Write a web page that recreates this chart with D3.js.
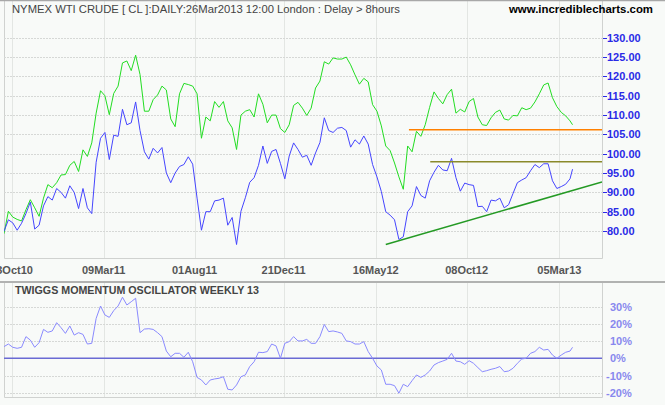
<!DOCTYPE html>
<html>
<head>
<meta charset="utf-8">
<script src="https://cdn.jsdelivr.net/npm/d3@7"></script>
<style>
  body { margin: 0; background: #f8faf8; }
  svg { display: block; font-family: "Liberation Sans", Arial, sans-serif; }
</style>
</head>
<body>
<div id="chart"></div>
<script>
// ---- data ----
const firstWeek = '2010-10-01';
const lastDay = '2013-03-26';
const xDomain = ['2010-10-01', '2013-05-12'];

const tickDates = ['2010-10-13', '2011-03-09', '2011-08-01', '2011-12-21', '2012-05-16', '2012-10-08', '2013-03-05'];
const tickLabels = ['13Oct10', '09Mar11', '01Aug11', '21Dec11', '16May12', '08Oct12', '05Mar13'];

const priceTicks = [80, 85, 90, 95, 100, 105, 110, 115, 120, 125, 130];
const oscTicks = [-20, -10, 0, 10, 20, 30];

// weekly closes, green (upper) and blue (lower) price lines
const greenClose = [
  79.3, 85.1, 83.6, 83.0, 82.6, 85.5, 88.1, 86.0, 83.8, 88.5,
  92.0, 91.2, 92.5, 94.5, 94.6, 97.0, 98.0, 95.4, 101.0, 99.3,
  102.8, 110.5, 116.3, 115.0, 110.1, 115.6, 117.5, 123.5, 124.0, 121.5,
  125.5, 120.5, 111.0, 111.0, 114.0, 115.2, 117.5, 116.5, 109.0, 107.0,
  115.5, 118.2, 117.9, 117.5, 115.5, 104.0, 109.5, 108.5, 113.5, 112.0,
  113.5, 108.5, 106.7, 101.1, 110.0, 111.0, 111.4, 109.5, 115.5, 112.8,
  108.0, 110.0, 110.0, 106.5, 105.5, 107.5, 112.5, 113.3, 111.8, 109.9,
  111.8, 117.0, 118.8, 123.8, 123.2, 124.8, 124.5, 124.5, 125.0, 123.0,
  120.4, 118.0, 119.5, 118.6, 112.7, 111.0, 107.2, 102.0, 100.8, 97.6,
  94.0, 90.8, 102.0, 100.5, 105.8, 104.5, 107.5, 112.0, 116.0, 114.3,
  112.9, 115.3, 116.7, 110.5, 111.5, 110.8, 113.5, 114.3, 109.5, 107.5,
  107.3, 109.3, 110.7, 111.3, 109.0, 108.7, 109.9, 109.8, 111.9, 111.4,
  111.8, 113.4, 115.5, 117.8, 118.3, 114.5, 112.2, 110.7, 109.8, 108.5,
  107.5
];
const blueClose = [
  79.9, 82.9, 82.1, 80.2, 82.0, 84.5, 87.5, 80.5, 81.5, 86.5,
  88.9, 88.0, 91.0, 90.0, 88.5, 91.7, 90.0, 85.8, 91.0, 86.0,
  84.5, 97.8, 104.0, 105.5, 98.5, 104.8, 104.5, 111.5, 107.5, 108.0,
  113.4, 106.0, 100.5, 98.6, 101.4, 100.2, 101.6, 95.0, 92.5, 95.0,
  96.7, 97.2, 99.2, 97.3, 88.5, 80.2, 85.0, 85.0, 87.8, 88.0,
  88.5, 81.5, 83.5, 76.5, 85.1, 88.6, 92.6, 93.8, 97.0, 102.0,
  97.5, 100.6, 101.1, 97.5, 93.5, 99.4, 102.8, 101.1, 99.1, 99.6,
  97.0, 100.2, 102.9, 109.3, 106.0, 105.5, 106.6, 106.8, 106.0, 101.7,
  103.6, 102.5, 104.6, 102.5, 97.2, 94.0, 90.2, 85.0, 84.1, 82.9,
  77.8, 78.5, 85.0, 86.5, 91.5, 89.2, 88.5, 93.0, 95.2, 97.0,
  95.8, 95.6, 98.8, 93.8, 90.3, 92.4, 92.0, 91.8, 86.3, 86.4,
  85.0, 88.0, 87.8, 88.5, 86.0, 86.8, 89.7, 92.5, 93.2, 93.8,
  95.6, 97.2, 96.4, 97.4, 97.4, 93.0, 91.0, 91.5, 92.1, 93.5,
  96.0
];
// Twiggs momentum oscillator, weekly 13 (percent)
const twiggs = [
  6.8, 8.3, 6.4, 5.8, 6.4, 12.6, 10.6, 6.4, 9.1, 16.8,
  15.1, 15.9, 20.7, 17.8, 14.5, 18.8, 13.5, 14.9, 13.9, 8.3,
  8.7, 23.2, 30.4, 25.2, 23.8, 27.7, 30.4, 35.5, 31.0, 32.9,
  34.9, 14.9, 17.0, 17.2, 16.8, 14.9, 12.6, 4.2, 0.9, 2.9,
  2.9, 0.6, 3.5, -2.0, -11.1, -12.6, -15.5, -12.6, -12.0, -11.6,
  -10.7, -18.0, -18.4, -15.5, -10.7, -9.7, -4.8, -2.0, 3.5, 3.3,
  3.9, 8.3, 7.2, 0.0, 8.7, 9.7, 12.6, 10.1, 10.1, 11.0,
  8.7, 8.7, 12.6, 19.7, 15.5, 15.9, 15.3, 14.5, 10.1, 9.7,
  8.3, 8.3, 9.7, 3.9, 0.0, -4.5, -6.8, -15.1, -15.1, -15.9,
  -20.3, -15.1, -16.5, -13.0, -9.7, -11.1, -9.7, -7.4, -3.9, -2.5,
  -1.6, -0.6, 2.9, -1.6, -2.0, -3.5, -1.4, -2.9, -5.4, -7.8,
  -7.2, -6.4, -5.8, -4.8, -7.8, -7.4, -5.8, -2.9, -0.4, 0.0,
  2.9, 3.9, 6.4, 4.8, 5.2, 1.9, 0.0, 1.9, 3.5, 4.2,
  6.4
];

// drawn support / resistance / trend lines: [start date, level] (end date for the trend)
const orangeLevel = ['2012-07-08', 106.2];
const oliveLevel = ['2012-08-11', 97.9];
const trendLine = [['2012-06-01', 76.5], ['2013-05-12', 92.7]];

// ---- layout ----
const W = 665, H = 405;
const plotL = 4, plotR = 602;
const main = { top: 1, bottom: 258 };
const lower = { top: 283, bottom: 397 };

const colors = {
  bg: '#f8faf8',
  grid: '#d6d8d6',
  vgrid: '#e3e6e3',
  border: '#d0d2d0',
  green: '#22dd22',
  blue: '#4545ff',
  orange: '#ff8000',
  olive: '#8a8a2a',
  trend: '#249a24',
  osc: '#8a8aff',
  zero: '#6a6ad4',
  priceLabel: '#2a2ae6',
  oscLabel: '#8888ee',
  text: '#444'
};

const parse = d3.timeParse('%Y-%m-%d');
const weekDates = d3.range(greenClose.length - 1)
  .map(i => d3.timeDay.offset(parse(firstWeek), 7 * i))
  .concat([parse(lastDay)]);

const x = d3.scaleTime().domain(xDomain.map(parse)).range([plotL, plotR]);
const yMain = d3.scaleLinear().domain([80, 130]).range([231, 37.8]);
const yOsc = d3.scaleLinear().domain([-20, 30]).range([392.7, 306.7]);

const svg = d3.select('#chart').append('svg')
  .attr('width', W).attr('height', H);

svg.append('rect').attr('width', W).attr('height', H).attr('fill', colors.bg);

const defs = svg.append('defs');
defs.append('clipPath').attr('id', 'clipMain')
  .append('rect').attr('x', plotL).attr('y', main.top)
  .attr('width', plotR - plotL).attr('height', main.bottom - main.top);
defs.append('clipPath').attr('id', 'clipLower')
  .append('rect').attr('x', plotL).attr('y', lower.top)
  .attr('width', plotR - plotL).attr('height', lower.bottom - lower.top);

// vertical grid in both panels
[main, lower].forEach(p => {
  svg.append('g').selectAll('line').data(tickDates).join('line')
    .attr('x1', d => Math.round(x(parse(d))) + 0.5)
    .attr('x2', d => Math.round(x(parse(d))) + 0.5)
    .attr('y1', p.top).attr('y2', p.bottom)
    .attr('stroke', colors.vgrid).attr('stroke-width', 1);
  // borders
  svg.append('path')
    .attr('d', `M${plotL + 0.5},${p.top}V${p.bottom + 0.5}H${plotR + 0.5}V${p.top}`)
    .attr('fill', 'none').attr('stroke', colors.border).attr('stroke-width', 1);
});

// horizontal grid, main
svg.append('g').selectAll('line').data(priceTicks).join('line')
  .attr('x1', plotL).attr('x2', plotR)
  .attr('y1', d => Math.round(yMain(d)) + 0.5).attr('y2', d => Math.round(yMain(d)) + 0.5)
  .attr('stroke', colors.grid).attr('stroke-dasharray', '2,1');

// horizontal grid, lower
svg.append('g').selectAll('line').data(oscTicks.filter(d => d !== 0)).join('line')
  .attr('x1', plotL).attr('x2', plotR)
  .attr('y1', d => Math.round(yOsc(d)) + 0.5).attr('y2', d => Math.round(yOsc(d)) + 0.5)
  .attr('stroke', colors.grid).attr('stroke-dasharray', '2,1');

// top edge and panel separator
svg.append('line').attr('x1', 0).attr('x2', W).attr('y1', 0.5).attr('y2', 0.5)
  .attr('stroke', '#a8a8a8').attr('stroke-width', 1.5);
svg.append('line').attr('x1', 0).attr('x2', W).attr('y1', 282).attr('y2', 282)
  .attr('stroke', '#9a9a9a').attr('stroke-width', 1.5);

// price lines
const gMain = svg.append('g').attr('clip-path', 'url(#clipMain)');
const priceLine = values => d3.line()
  .x((d, i) => x(weekDates[i]))
  .y(d => yMain(d))(values);

gMain.append('path').attr('d', priceLine(greenClose))
  .attr('fill', 'none').attr('stroke', colors.green).attr('stroke-width', 1);
gMain.append('path').attr('d', priceLine(blueClose))
  .attr('fill', 'none').attr('stroke', colors.blue).attr('stroke-width', 1);

// support / resistance levels and trend line
const xEnd = x.domain()[1];
gMain.append('line')
  .attr('x1', x(parse(orangeLevel[0]))).attr('x2', x(xEnd))
  .attr('y1', yMain(orangeLevel[1])).attr('y2', yMain(orangeLevel[1]))
  .attr('stroke', colors.orange).attr('stroke-width', 1.5);
gMain.append('line')
  .attr('x1', x(parse(oliveLevel[0]))).attr('x2', x(xEnd))
  .attr('y1', yMain(oliveLevel[1])).attr('y2', yMain(oliveLevel[1]))
  .attr('stroke', colors.olive).attr('stroke-width', 1.5);
gMain.append('line')
  .attr('x1', x(parse(trendLine[0][0]))).attr('y1', yMain(trendLine[0][1]))
  .attr('x2', x(parse(trendLine[1][0]))).attr('y2', yMain(trendLine[1][1]))
  .attr('stroke', colors.trend).attr('stroke-width', 1.5);

// right price axis
const priceAxis = svg.append('g');
priceAxis.selectAll('line').data(priceTicks).join('line')
  .attr('x1', plotR + 1).attr('x2', plotR + 5)
  .attr('y1', d => Math.round(yMain(d)) + 0.5).attr('y2', d => Math.round(yMain(d)) + 0.5)
  .attr('stroke', colors.priceLabel);
priceAxis.selectAll('text').data(priceTicks).join('text')
  .attr('x', 607).attr('y', d => yMain(d) + 4)
  .attr('font-size', 11).attr('font-weight', 'bold')
  .attr('fill', colors.priceLabel)
  .text(d => d3.format('.2f')(d));

// date labels
svg.append('g').selectAll('text').data(tickDates).join('text')
  .attr('x', d => x(parse(d))).attr('y', 274)
  .attr('text-anchor', 'middle')
  .attr('font-size', 11).attr('font-weight', 'bold')
  .attr('fill', '#555')
  .text((d, i) => tickLabels[i]);

// lower panel: zero line and oscillator
const gLower = svg.append('g').attr('clip-path', 'url(#clipLower)');
gLower.append('line')
  .attr('x1', plotL).attr('x2', plotR)
  .attr('y1', yOsc(0)).attr('y2', yOsc(0))
  .attr('stroke', colors.zero).attr('stroke-width', 1.5);
gLower.append('path')
  .attr('d', d3.line().x((d, i) => x(weekDates[i])).y(d => yOsc(d))(twiggs))
  .attr('fill', 'none').attr('stroke', colors.osc).attr('stroke-width', 1);

svg.append('g').selectAll('text').data(oscTicks).join('text')
  .attr('x', d => d < 0 ? 606 : 610).attr('y', d => yOsc(d) + 4)
  .attr('font-size', 11).attr('font-weight', 'bold')
  .attr('fill', colors.oscLabel)
  .text(d => d + '%');

// titles
svg.append('text')
  .attr('x', 12).attr('y', 13)
  .attr('font-size', 11).attr('fill', colors.text)
  .attr('textLength', 388).attr('lengthAdjust', 'spacingAndGlyphs')
  .text('NYMEX WTI CRUDE [ CL ]:DAILY:26Mar2013 12:00 London : Delay > 8hours');
svg.append('text')
  .attr('x', 509).attr('y', 13)
  .attr('font-size', 11).attr('font-weight', 'bold').attr('fill', '#000')
  .attr('textLength', 144).attr('lengthAdjust', 'spacingAndGlyphs')
  .text('www.incrediblecharts.com');
svg.append('text')
  .attr('x', 15).attr('y', 294)
  .attr('font-size', 11).attr('font-weight', 'bold').attr('fill', colors.text)
  .attr('textLength', 244).attr('lengthAdjust', 'spacingAndGlyphs')
  .text('TWIGGS MOMENTUM OSCILLATOR WEEKLY 13');
</script>
</body>
</html>
